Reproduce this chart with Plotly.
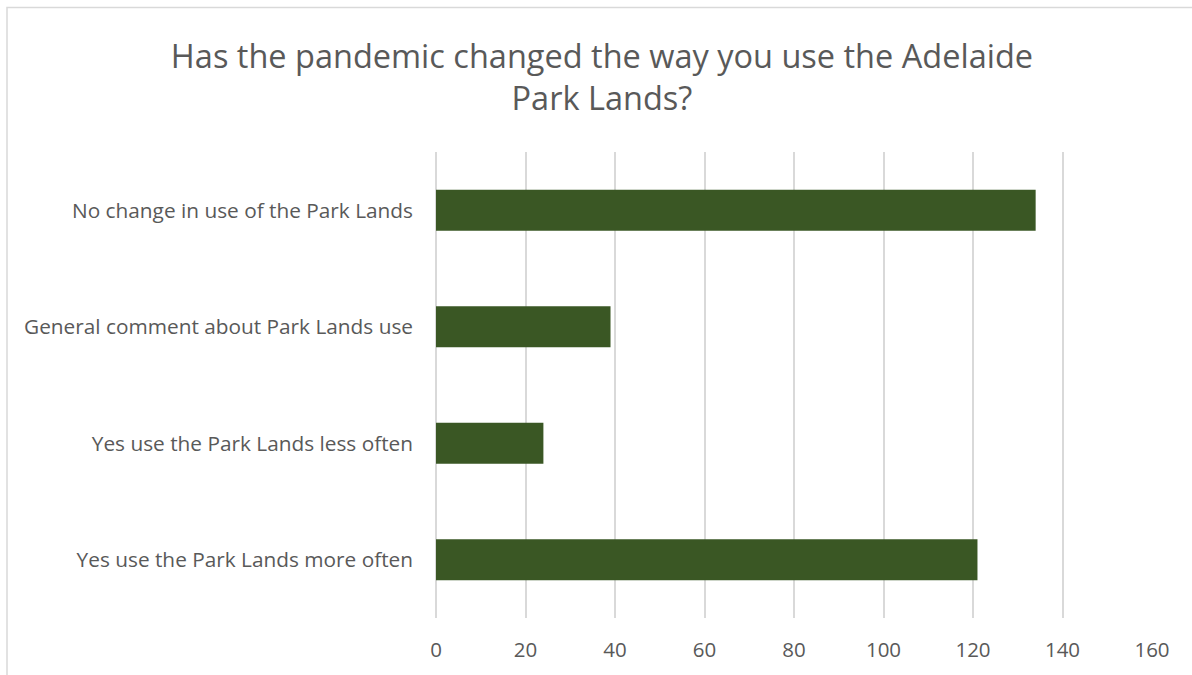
import plotly.graph_objects as go

categories = [
    "Yes use the Park Lands more often",
    "Yes use the Park Lands less often",
    "General comment about Park Lands use",
    "No change in use of the Park Lands",
]
counts = [121, 24, 39, 134]
x_ticks = [0, 20, 40, 60, 80, 100, 120, 140, 160]

TEXT = "#595959"
FONT = "'Open Sans', sans-serif"

fig = go.Figure(
    go.Bar(
        x=counts,
        y=categories,
        orientation="h",
        width=0.35,
        marker=dict(color="#3A5724", line=dict(width=0)),
    )
)

fig.update_layout(
    width=1192,
    height=675,
    paper_bgcolor="white",
    plot_bgcolor="white",
    margin=dict(l=436, r=40, t=152, b=55),
    title=dict(
        text="Has the pandemic changed the way you use the Adelaide<br>Park Lands?",
        x=0.505,
        xanchor="center",
        y=0.9,
        yanchor="top",
        font=dict(family=FONT, size=32.5, color=TEXT),
    ),
    font=dict(family=FONT, color=TEXT),
    showlegend=False,
    shapes=[
        dict(
            type="rect", xref="paper", yref="paper",
            x0=-429 / 716, x1=1 + 60 / 716,
            y0=-0.2, y1=1 + 145 / 468,
            line=dict(color="#D9D9D9", width=1.5),
            layer="below",
        )
    ],
)

fig.update_xaxes(
    range=[0, 160],
    tickvals=x_ticks,
    showgrid=True,
    gridcolor="#D9D9D9",
    gridwidth=1.5,
    zeroline=True,
    zerolinecolor="#D9D9D9",
    zerolinewidth=1.5,
    showline=False,
    ticks="",
    tickfont=dict(size=20.5, color=TEXT),
    ticklabelstandoff=17,
)
fig.update_yaxes(
    showgrid=False,
    zeroline=False,
    showline=False,
    ticks="",
    tickfont=dict(size=20.8, color=TEXT),
    ticklabelstandoff=22,
)

fig.write_html("out.html")
